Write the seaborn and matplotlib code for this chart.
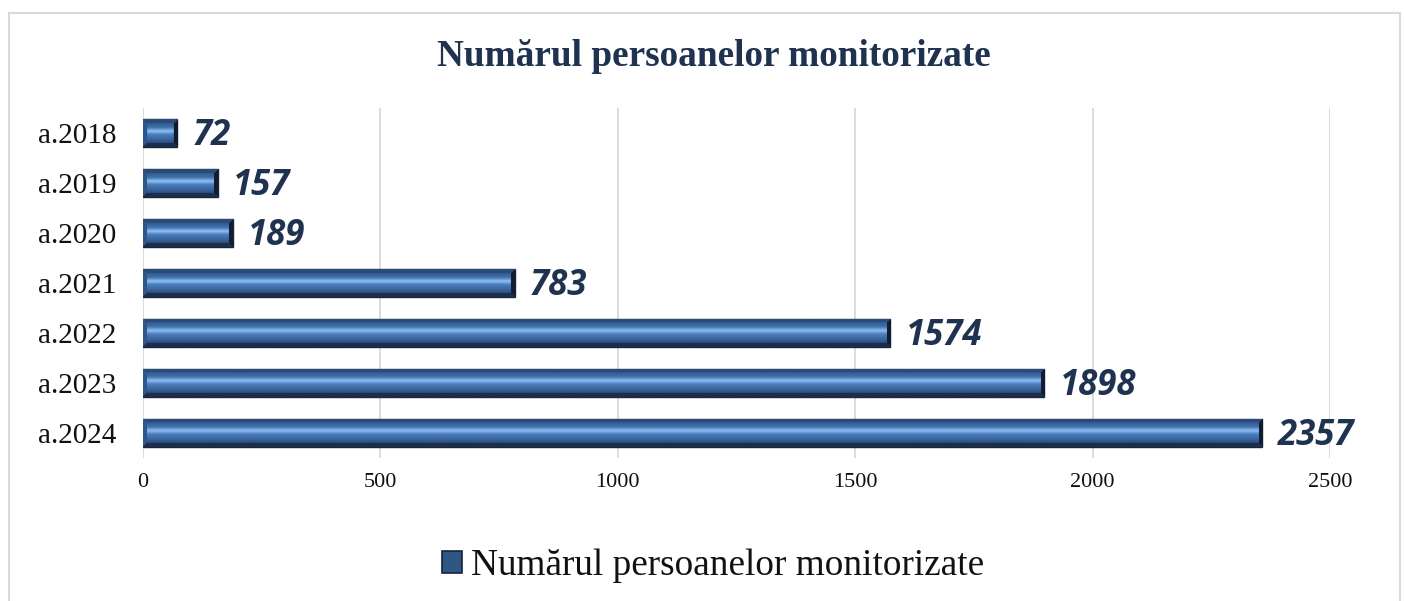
import numpy as np
import pandas as pd
import matplotlib
matplotlib.use("Agg")
import matplotlib.pyplot as plt
from matplotlib.patches import Patch, Rectangle
from matplotlib.colors import LinearSegmentedColormap, to_rgb
import seaborn as sns

years = ["a.2018", "a.2019", "a.2020", "a.2021", "a.2022", "a.2023", "a.2024"]
values = [72, 157, 189, 783, 1574, 1898, 2357]
xticks = [0, 500, 1000, 1500, 2000, 2500]
title = "Numărul persoanelor monitorizate"
series_name = "Numărul persoanelor monitorizate"

sns.set_theme(style="white")
plt.rcParams["font.family"] = ["Liberation Serif", "DejaVu Serif"]

fig = plt.figure(figsize=(14.04, 6.01), dpi=100)
ax = fig.add_axes([143 / 1404, 1 - 458 / 601, (1330 - 143) / 1404, (458 - 108) / 601])

df = pd.DataFrame({"year": years, "value": values})
sns.barplot(data=df, x="value", y="year", orient="h", width=0.56,
            color="#3a6499", edgecolor="#1a2638", linewidth=1.0, ax=ax, zorder=3)

ax.set_xlim(0, 2500)
ax.set_ylim(6.5, -0.5)

# bevel-like shading inside each bar (rendered per bar in pixel resolution)
base = LinearSegmentedColormap.from_list(
    "base", [(0.0, "#335d91"), (0.2, "#4071ad"), (0.4, "#8ec0f5"),
             (0.58, "#4b7ebd"), (0.82, "#3b679f"), (1.0, "#2d5080")])
top_c = np.array(to_rgb("#2a4a78"))
bot_c = np.array(to_rgb("#1b2e4c"))
left_c = np.array(to_rgb("#30568a"))
right_c = np.array(to_rgb("#111c30"))
bev = 4.5
for p in list(ax.patches):
    x0, y0 = p.get_x(), p.get_y()
    w, h = p.get_width(), p.get_height()
    (px0, py0) = ax.transData.transform((x0, y0))
    (px1, py1) = ax.transData.transform((x0 + w, y0 + h))
    W = max(int(round(abs(px1 - px0))), 2)
    H = max(int(round(abs(py1 - py0))), 2)
    rr, cc = np.mgrid[0:H, 0:W]
    dt = rr + 0.5
    db = H - rr - 0.5
    dl = cc + 0.5
    dr = W - cc - 0.5
    img = base(np.clip((rr + 0.5 - bev) / max(H - 2 * bev, 1), 0, 1))[..., :3].copy()
    d = np.stack([dt, db, dl, dr])
    m = d.min(axis=0)
    which = d.argmin(axis=0)
    inb = m < bev
    for k, col in enumerate([top_c, bot_c, left_c, right_c]):
        sel = inb & (which == k)
        img[sel] = col
    im = ax.imshow(img, extent=[x0, x0 + w, y0 + h, y0],
                   aspect="auto", zorder=3.5, origin="upper", interpolation="bilinear")
    im.set_clip_path(p)

ax.set_xlim(0, 2500)
ax.set_ylim(6.5, -0.5)
ax.set_xticks(xticks)
ax.set_xticklabels([str(t) for t in xticks], fontsize=16)
ax.tick_params(axis="x", length=0, pad=11, colors="#111111")
ax.tick_params(axis="y", length=0, pad=19, labelsize=21, colors="#111111")
ax.set_xlabel("")
ax.set_ylabel("")
ax.grid(axis="x", color="#d9d9d9", linewidth=1.3, zorder=0)
ax.set_axisbelow(True)
for s in ax.spines.values():
    s.set_visible(False)

for i, v in enumerate(values):
    ax.annotate(str(v), xy=(v, i), xytext=(11, -2), textcoords="offset points",
                ha="left", va="center", fontsize=25, fontweight="bold", fontstyle="italic",
                color="#1f3350", family=["Open Sans", "DejaVu Sans"], zorder=5)

fig.text(0.5085, 1 - 57 / 601, title, ha="center", va="center", fontsize=26.8,
         fontweight="bold", color="#1f3350")

handle = Patch(facecolor="#2f5685", edgecolor="#16243a", linewidth=1.2)
fig.legend([handle], [series_name], loc="center", bbox_to_anchor=(0.508, 1 - 566 / 601),
           frameon=False, fontsize=26.8, handlelength=0.52, handleheight=0.52,
           handletextpad=0.25, labelcolor="#111111")

fig.patches.append(Rectangle((9 / 1404, -0.02), (1400 - 9) / 1404, 1 - 13 / 601 + 0.02,
                             transform=fig.transFigure, fill=False,
                             edgecolor="#d9d9d9", linewidth=1.5, zorder=0))

fig.savefig("out.png", dpi=100)
